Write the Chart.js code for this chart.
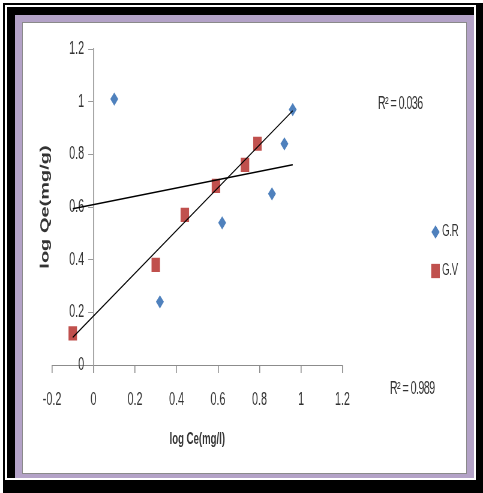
<!DOCTYPE html>
<html>
<head>
<meta charset="utf-8">
<script src="https://cdn.jsdelivr.net/npm/chart.js@4.4.1/dist/chart.umd.min.js"></script>
<style>
  html, body { margin: 0; padding: 0; background: #fff; width: 483px; height: 493px; overflow: hidden; }
  .frame { position: absolute; box-sizing: border-box; }
  #outer { left: 3px; top: 3px; width: 480px; height: 490px; background: #000; }
  #gap { left: 5px; top: 5px; width: 471px; height: 475px; border: 2px solid #fff; }
  #band { left: 15px; top: 15px; width: 459px; height: 463px; background: #b3a2c7; }
  #panel { left: 22px; top: 22px; width: 445px; height: 452px; background: #fff; border: 1px solid #8a8a8a; }
  /* the plot is laid out on a wider canvas and compressed horizontally */
  #plot { position: absolute; left: 0; top: 0; width: 805px; height: 493px; transform: scaleX(0.6); transform-origin: 0 0; }
  #plot canvas { display: block; }
</style>
</head>
<body>
<div class="frame" id="outer"></div>
<div class="frame" id="gap"></div>
<div class="frame" id="band"></div>
<div class="frame" id="panel"></div>
<div id="plot"><canvas id="chart" width="805" height="493"></canvas></div>
<script>
// Freundlich isotherm data: log Ce (x) against log Qe (y)
const seriesNames = ['G.R', 'G.V'];
const grLogCe = [0.10, 0.32, 0.62, 0.86, 0.92, 0.96];
const grLogQe = [1.01, 0.24, 0.54, 0.65, 0.84, 0.97];
const gvLogCe = [-0.10, 0.30, 0.44, 0.59, 0.73, 0.79];
const gvLogQe = [0.12, 0.38, 0.57, 0.68, 0.76, 0.84];
const rSquaredText = ['R\u00b2 = 0.036', 'R\u00b2 = 0.989'];
const xTickLabels = ['-0.2', '0', '0.2', '0.4', '0.6', '0.8', '1', '1.2'];
const yTickLabels = ['0', '0.2', '0.4', '0.6', '0.8', '1', '1.2'];
const xRange = [-0.2, 1.2];
const yRange = [0, 1.2];
const tickStep = 0.2;
const xTitle = 'log Ce(mg/l)';
const yTitle = 'log Qe(mg/g)';

const SQUEEZE = 0.6; // horizontal compression applied to #plot
const BLUE = '#4f81bd';
const RED = '#c0504d';
const TEXT = '#333';
const AXIS = '#9a9a9a';
const FONT = '"Liberation Sans", Arial, sans-serif';
const tickFont = { family: FONT, size: 18 };

function toPoints(xs, ys) {
  return xs.map((x, i) => ({ x: x, y: ys[i] }));
}

function labelFor(list, start) {
  return v => list[Math.round((v - start) / tickStep)];
}

// least-squares straight line through a series
function linearFit(xs, ys) {
  const n = xs.length;
  const mx = xs.reduce((s, v) => s + v, 0) / n;
  const my = ys.reduce((s, v) => s + v, 0) / n;
  let sxy = 0, sxx = 0;
  for (let i = 0; i < n; i++) {
    sxy += (xs[i] - mx) * (ys[i] - my);
    sxx += (xs[i] - mx) * (xs[i] - mx);
  }
  const slope = sxy / sxx;
  return { slope: slope, intercept: my - slope * mx };
}

// trend lines span the x extent of all plotted points
const allX = grLogCe.concat(gvLogCe);
const spanX = [Math.min.apply(null, allX), Math.max.apply(null, allX)];
function trendPoints(xs, ys) {
  const f = linearFit(xs, ys);
  return spanX.map(x => ({ x: x, y: f.intercept + f.slope * x }));
}

const annotate = {
  id: 'annotate',
  afterDraw(chart) {
    const { ctx, chartArea: a } = chart;
    ctx.save();
    ctx.fillStyle = TEXT;
    ctx.textBaseline = 'middle';

    // axis titles
    ctx.font = 'bold 16px ' + FONT;
    ctx.textAlign = 'center';
    ctx.fillText(xTitle, (a.left + a.right) / 2, a.bottom + 75);
    ctx.save();
    ctx.translate(75, (a.top + a.bottom) / 2);
    ctx.rotate(-Math.PI / 2);
    ctx.font = 'bold 20px ' + FONT;
    ctx.fillText(yTitle, 0, 0);
    ctx.restore();

    // coefficient of determination for each trend line
    ctx.textAlign = 'left';
    ctx.font = '18px ' + FONT;
    ctx.letterSpacing = '-1px';
    ctx.fillText(rSquaredText[0], a.right + 59, a.top + 55);
    ctx.fillText(rSquaredText[1], a.right + 79, a.bottom + 24);

    // legend
    ctx.font = '16px ' + FONT;
    ctx.letterSpacing = '-0.5px';
    const rows = [a.top + 183, a.top + 222];
    chart.data.datasets.slice(0, 2).forEach((ds, i) => {
      ctx.fillStyle = ds.backgroundColor;
      Chart.helpers.drawPoint(ctx, {
        pointStyle: ds.pointStyle,
        radius: ds.pointRadius,
        borderWidth: 0,
        rotation: 0
      }, a.right + 155, rows[i]);
      ctx.fill();
      ctx.fillStyle = TEXT;
      ctx.fillText(seriesNames[i], a.right + 166, rows[i]);
    });
    ctx.restore();
  }
};

new Chart(document.getElementById('chart'), {
  type: 'scatter',
  data: {
    datasets: [
      {
        label: seriesNames[0],
        data: toPoints(grLogCe, grLogQe),
        pointStyle: 'rectRot',
        pointRadius: 6.6,
        backgroundColor: BLUE,
        borderColor: BLUE,
        borderWidth: 0,
        order: 1
      },
      {
        label: seriesNames[1],
        data: toPoints(gvLogCe, gvLogQe),
        pointStyle: 'rect',
        pointRadius: 10,
        backgroundColor: RED,
        borderColor: RED,
        borderWidth: 0,
        order: 1
      },
      {
        label: 'G.R trend',
        data: trendPoints(grLogCe, grLogQe),
        showLine: true,
        pointRadius: 0,
        borderColor: '#000',
        borderWidth: 1.4,
        order: 0
      },
      {
        label: 'G.V trend',
        data: trendPoints(gvLogCe, gvLogQe),
        showLine: true,
        pointRadius: 0,
        borderColor: '#000',
        borderWidth: 1.4,
        order: 0
      }
    ]
  },
  options: {
    responsive: false,
    devicePixelRatio: 1,
    animation: false,
    events: [],
    layout: { padding: { left: 52 / SQUEEZE, right: 805 - 342.5 / SQUEEZE, top: 49, bottom: 128 } },
    plugins: { legend: { display: false }, tooltip: { enabled: false } },
    scales: {
      x: {
        type: 'linear',
        position: { y: 0 },
        min: xRange[0],
        max: xRange[1],
        border: { display: true, color: '#8c8c8c', width: 1 },
        grid: { drawOnChartArea: false, drawTicks: true, tickLength: 7, color: '#8c8c8c', lineWidth: 1.6 },
        ticks: { stepSize: tickStep, padding: 17, color: TEXT, font: tickFont,
                 callback: labelFor(xTickLabels, xRange[0]) }
      },
      // vertical axis line and tick marks, crossing the horizontal axis at x = 0
      y: {
        type: 'linear',
        position: { x: 0 },
        min: yRange[0],
        max: yRange[1],
        border: { display: true, color: AXIS, width: 1.6 },
        grid: { drawOnChartArea: false, drawTicks: true, tickLength: 8, color: AXIS, lineWidth: 1 },
        ticks: { stepSize: tickStep, display: false }
      },
      // tick labels of the vertical axis, set just left of its tick marks
      yLabels: {
        axis: 'y',
        type: 'linear',
        position: { x: -0.045 },
        min: yRange[0],
        max: yRange[1],
        border: { display: false },
        grid: { display: false },
        ticks: { stepSize: tickStep, color: TEXT, font: tickFont,
                 callback: labelFor(yTickLabels, yRange[0]) }
      }
    }
  },
  plugins: [annotate]
});
</script>
</body>
</html>
